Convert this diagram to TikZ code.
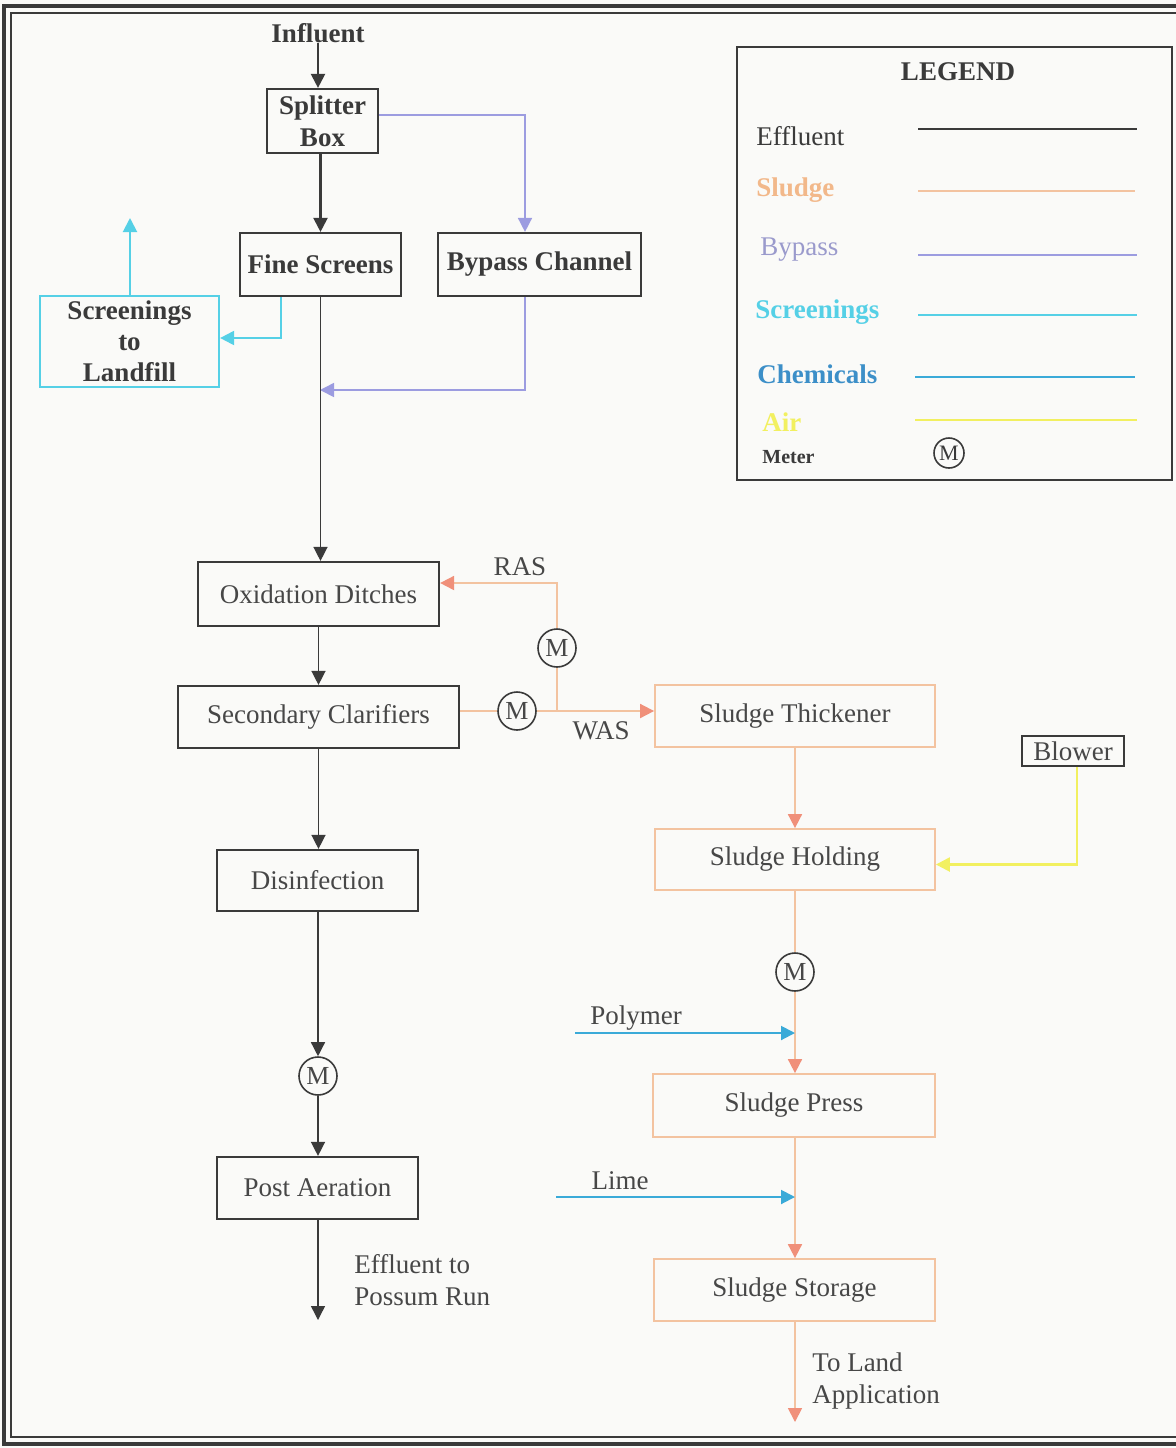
\documentclass[tikz,border=0pt]{standalone}
\usepackage{fontspec}
\setmainfont{Liberation Serif}
\usetikzlibrary{arrows.meta,calc}
\definecolor{eff}{HTML}{3A3A3A}
\definecolor{sludgeline}{HTML}{F3C3A0}
\definecolor{sludgetip}{HTML}{F0907A}
\definecolor{byp}{HTML}{9C9CE0}
\definecolor{scr}{HTML}{55D0E6}
\definecolor{chem}{HTML}{3AAAD8}
\definecolor{air}{HTML}{F2F060}
\definecolor{txt}{HTML}{474747}
\definecolor{sludgetxt}{HTML}{F2B88A}
\definecolor{byptxt}{HTML}{9A9ACC}
\definecolor{chemtxt}{HTML}{3C8FC8}
\definecolor{paper}{HTML}{FAFAF8}
\begin{document}
\begin{tikzpicture}[x=0.5pt,y=-0.5pt,
  f/.style={font=\fontsize{13.5}{16}\selectfont},
  fb/.style={font=\fontsize{13.5}{16}\selectfont\bfseries},
  box/.style={draw=eff, line width=1.1pt, inner sep=0pt, align=center, text=txt, f},
  topbox/.style={box, text=eff, fb},
  sbox/.style={draw=sludgeline, line width=0.9pt, inner sep=0pt, align=center, text=txt, f},
  meter/.style={circle, draw=eff, line width=0.8pt, minimum size=19pt, inner sep=0pt, text=txt, font=\fontsize{13}{13}\selectfont},
  effl/.style={draw=eff, line width=1.1pt},
  effthin/.style={draw=eff, line width=0.7pt},
  sl/.style={draw=sludgeline, line width=0.9pt},
  bl/.style={draw=byp, line width=0.8pt},
  sc/.style={draw=scr, line width=1pt},
  ch/.style={draw=chem, line width=1pt},
  ai/.style={draw=air, line width=1.2pt},
  tipd/.style={-{Triangle[length=7pt,width=7pt,color=eff]}},
  tips/.style={-{Triangle[length=7pt,width=7pt,color=sludgetip]}},
  tipb/.style={-{Triangle[length=7pt,width=7pt,color=byp]}},
  tipc/.style={-{Triangle[length=7pt,width=7pt,color=scr]}},
  tipch/.style={-{Triangle[length=7pt,width=7pt,color=chem]}},
  tipa/.style={-{Triangle[length=7pt,width=7pt,color=air]}},
  lbl/.style={text=txt, f, inner sep=0pt, align=left}
]
\useasboundingbox (0,0) rectangle (1176,1448);
\fill[paper] (0,0) rectangle (1176,1448);
% frame
\draw[eff, line width=1.6pt] (1176,6) -- (4,6) -- (4,1444) -- (1176,1444);
\draw[eff, line width=0.8pt] (1176,13) -- (11,13) -- (11,1437) -- (1176,1437);

% top section
\node[text=eff, fb, inner sep=0pt] (infl) at (318,33) {Influent};
\node[topbox, minimum width=55.5pt, minimum height=32pt] (split) at (322.5,121) {Splitter\\[0pt]Box};
\node[topbox, minimum width=80.5pt, minimum height=31.5pt] (fine) at (320.5,264.5) {Fine Screens};
\node[topbox, minimum width=101.5pt, minimum height=31.5pt] (bypass) at (539.5,264.5) {Bypass Channel};
\node[draw=scr, line width=1.1pt, inner sep=0pt, align=center, text=eff, fb, minimum width=89.5pt, minimum height=45.5pt] (scrn) at (129.5,341.5) {Screenings\\[-0.5pt]to\\[-0.5pt]Landfill};

\draw[effl, tipd] (infl.south) -- (split.north -| infl.south);
\draw[effl, tipd] (fine.north |- split.south) -- (fine.north);
\draw[bl, tipb] (split.east |- 0,115) -| ($(bypass.north)+(-14.5,0)$);
\coordinate (bj) at (320,390);
\draw[bl, tipb] ($(bypass.south)+(-14.5,0)$) |- (bj);
\coordinate (scrup) at (130,218);
\draw[sc, tipc] ($(fine.south)+(-39.5,0)$) |- (scrn.east |- 0,338);
\draw[sc, tipc] (scrn.north -| scrup) -- (scrup);

% legend
\node[draw=eff, line width=0.9pt, minimum width=217.5pt, minimum height=216.5pt, inner sep=0pt] (leg) at (954.5,263.5) {};
\node[text=eff, fb, inner sep=0pt] (legt) at (958,72) {LEGEND};
\node[anchor=west, text=eff, f, inner sep=0pt] (le1) at (756,136) {Effluent};
\node[anchor=west, text=sludgetxt, fb, inner sep=0pt] (le2) at (756,190) {Sludge};
\node[anchor=west, text=byptxt, f, inner sep=0pt] (le3) at (760,250) {Bypass};
\node[anchor=west, text=scr, fb, inner sep=0pt] (le4) at (755,312) {Screenings};
\node[anchor=west, text=chemtxt, fb, inner sep=0pt] (le5) at (757,374) {Chemicals};
\node[anchor=west, text=air, fb, inner sep=0pt] (le6) at (762,422) {Air};
\node[anchor=west, text=eff, font=\fontsize{10}{12}\selectfont\bfseries, inner sep=0pt] (le7) at (762,457) {Meter};
\coordinate (l1a) at (918,129); \coordinate (l1b) at (1137,129);
\coordinate (l2a) at (918,191); \coordinate (l2b) at (1135,191);
\coordinate (l3a) at (918,255); \coordinate (l3b) at (1137,255);
\coordinate (l4a) at (918,315); \coordinate (l4b) at (1137,315);
\coordinate (l5a) at (915,377); \coordinate (l5b) at (1135,377);
\coordinate (l6a) at (915,420); \coordinate (l6b) at (1137,420);
\draw[eff, line width=1.3pt] (l1a) -- (l1b);
\draw[sludgeline, line width=1pt] (l2a) -- (l2b);
\draw[byp, line width=0.8pt] (l3a) -- (l3b);
\draw[scr, line width=1pt] (l4a) -- (l4b);
\draw[chem, line width=1pt] (l5a) -- (l5b);
\draw[air, line width=1.3pt] (l6a) -- (l6b);
\node[circle, draw=eff, line width=0.8pt, minimum size=15pt, inner sep=0pt, text=eff, font=\fontsize{11}{11}\selectfont] (lm) at (949,453) {M};

% main column
\node[box, minimum width=120.5pt, minimum height=32pt] (oxid) at (318.5,594) {Oxidation Ditches};
\node[box, minimum width=140.5pt, minimum height=31pt] (sec) at (318.5,717) {Secondary Clarifiers};
\node[box, minimum width=100.5pt, minimum height=30.5pt] (dis) at (317.5,880.5) {Disinfection};
\node[meter] (m4) at (318,1076) {M};
\node[box, minimum width=100.5pt, minimum height=31pt] (post) at (317.5,1188) {Post Aeration};
\coordinate (out) at (318,1320);
\node[lbl, anchor=west] (outl) at (354,1280) {Effluent to\\Possum Run};

\draw[effthin, tipd] (fine.south) -- (fine.south |- oxid.north);
\draw[effthin, tipd] (oxid.south) -- (sec.north);
\draw[effthin, tipd] (sec.south) -- (sec.south |- dis.north);
\draw[effthin, tipd] (dis.south -| m4) -- (m4.north);
\draw[effthin, tipd] (m4.south) -- (post.north -| m4);
\draw[effthin, tipd] (post.south -| out) -- (out);

% sludge
\node[meter] (m1) at (517,711) {M};
\node[meter] (m2) at (557,648) {M};
\coordinate (j) at (557,711);
\node[sbox, minimum width=140pt, minimum height=31pt] (thick) at (795,716) {Sludge Thickener};
\node[sbox, minimum width=140pt, minimum height=30.5pt] (hold) at (795,859.5) {Sludge Holding};
\node[meter] (m3) at (795,972) {M};
\node[sbox, minimum width=141pt, minimum height=31.5pt] (press) at (794,1105.5) {Sludge Press};
\node[sbox, minimum width=140.5pt, minimum height=31pt] (stor) at (794.5,1290) {Sludge Storage};
\node[box, line width=0.9pt, minimum width=51pt, minimum height=15pt] (blow) at (1073,751) {Blower};
\node[lbl] (ras) at (520,567) {RAS};
\node[lbl] (was) at (601,731) {WAS};

\draw[sl] (sec.east |- m1) -- (m1.west);
\draw[sl, tips] (m1.east) -- (thick.west |- m1);
\draw[sl] (j) -- (m2.south);
\draw[sl, tips] (m2.north) |- ($(oxid.east)+(0,-11)$);
\draw[sl, tips] (thick.south) -- (hold.north);
\draw[ai, tipa] ($(blow.south)+(4,0)$) |- ($(hold.east)+(0,5)$);
\draw[sl] (hold.south) -- (m3.north);
\draw[sl, tips] (m3.south) -- (m3 |- press.north);
\draw[sl, tips] (m3 |- press.south) -- (m3 |- stor.north);
\coordinate (land) at (795,1422);
\draw[sl, tips] (stor.south -| land) -- (land);
\node[lbl, anchor=west] (landl) at (812,1381) {To Land\\Application};

% chemicals
\coordinate (polys) at (575,1033);
\coordinate (polye) at (795,1033);
\coordinate (limes) at (556,1197);
\coordinate (limee) at (795,1197);
\draw[ch, tipch] (polys) -- (polye);
\draw[ch, tipch] (limes) -- (limee);
\node[lbl] (polyl) at (636,1018) {Polymer};
\node[lbl] (limel) at (620,1181) {Lime};
\end{tikzpicture}
\end{document}
